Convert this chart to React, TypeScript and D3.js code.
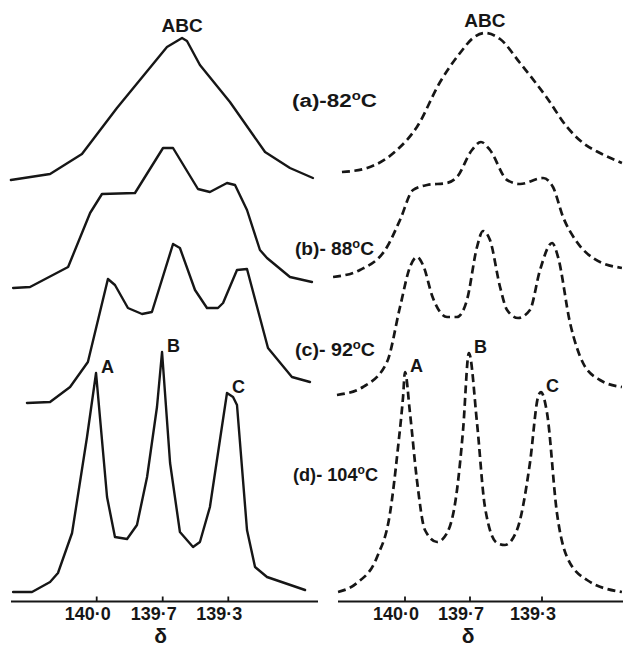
import React from 'react';
import * as d3 from 'd3';

// Chemical shift (δ, ppm) and intensity (arbitrary units) for each spectrum.
type Pt = [number, number];

const SHIFT_TICKS = [140.0, 139.7, 139.3];
const SHIFT_TICK_LABELS = ['140·0', '139·7', '139·3'];
const PEAK_NAMES = ['A', 'B', 'C'];
const TEMPERATURE_LABELS = ['(a)-82', '(b)- 88', '(c)- 92', '(d)- 104'];

// Observed spectra
const OBS_A: Pt[] = [
  [140.39, 0], [140.212, 6], [140.067, 26], [139.908, 72], [139.674, 133],
  [139.582, 142], [139.552, 139], [139.473, 115], [139.29, 78], [139.076, 28],
  [138.924, 12], [138.784, 2],
];
const OBS_B: Pt[] = [
  [140.38, 0], [140.303, 1], [140.13, 21], [140.03, 75], [139.976, 94],
  [139.826, 95], [139.698, 140], [139.637, 140], [139.485, 99], [139.412, 96],
  [139.308, 105], [139.259, 103], [139.186, 78], [139.107, 38], [139.064, 30],
  [138.924, 11], [138.79, 6],
];
const OBS_C: Pt[] = [
  [140.317, 0], [140.212, 1], [140.121, 16], [140.04, 41], [139.949, 124],
  [139.917, 118], [139.858, 95], [139.794, 89], [139.749, 91], [139.637, 159],
  [139.595, 155], [139.503, 113], [139.43, 95], [139.363, 95], [139.332, 100],
  [139.247, 133], [139.186, 134], [139.058, 55], [138.912, 26], [138.802, 21],
];
const OBS_D: Pt[] = [
  [140.38, 0], [140.294, 0], [140.212, 10], [140.176, 19], [140.112, 59],
  [140.044, 155], [140.003, 219], [139.953, 95], [139.917, 55], [139.862, 53],
  [139.817, 67], [139.771, 115], [139.726, 185], [139.703, 240], [139.655, 129],
  [139.595, 60], [139.515, 45], [139.473, 50], [139.412, 85], [139.351, 152],
  [139.308, 199], [139.271, 195], [139.247, 187], [139.186, 62], [139.137, 25],
  [139.064, 15], [138.832, 2],
];

// Calculated spectra
const CALC_A: Pt[] = [
  [140.291, 0], [140.175, 4], [140.037, 22], [139.945, 45], [139.838, 90],
  [139.746, 119], [139.683, 134], [139.617, 139], [139.533, 133], [139.422, 109],
  [139.272, 74], [139.161, 45], [139.072, 29], [138.978, 19], [138.856, 9],
];
const CALC_B: Pt[] = [
  [140.332, 0], [140.208, 7], [140.083, 30], [140.023, 57], [139.963, 87],
  [139.898, 92], [139.806, 94], [139.76, 100], [139.689, 127], [139.639, 135],
  [139.589, 127], [139.494, 97], [139.422, 93], [139.294, 99], [139.239, 90],
  [139.183, 60], [139.106, 35], [139.017, 19], [138.856, 9],
];
const CALC_C: Pt[] = [
  [140.314, 0], [140.194, 8], [140.083, 33], [140.023, 88], [139.977, 128],
  [139.945, 138], [139.917, 130], [139.871, 97], [139.806, 78], [139.76, 78],
  [139.714, 95], [139.661, 148], [139.628, 164], [139.589, 155], [139.533, 108],
  [139.494, 85], [139.433, 77], [139.367, 85], [139.311, 125], [139.244, 152],
  [139.211, 138], [139.144, 72], [139.072, 32], [138.978, 15], [138.856, 8],
];
const CALC_D: Pt[] = [
  [140.309, 0], [140.222, 9], [140.129, 35], [140.069, 79], [140.032, 145],
  [140.009, 195], [140.0, 220], [139.977, 179], [139.945, 112], [139.908, 62],
  [139.852, 50], [139.806, 59], [139.76, 102], [139.732, 162], [139.705, 239],
  [139.661, 169], [139.617, 85], [139.55, 49], [139.506, 47], [139.439, 62],
  [139.367, 129], [139.322, 195], [139.306, 200], [139.272, 179], [139.217, 79],
  [139.161, 35], [139.05, 12], [138.856, 0],
];

const OBSERVED = [OBS_A, OBS_B, OBS_C, OBS_D];
const CALCULATED = [CALC_A, CALC_B, CALC_C, CALC_D];

const W = 623;
const H = 649;
const INK = '#161616';
const FONT = "'Liberation Sans', Arial, sans-serif";

interface PanelSpec {
  spectra: Pt[][];
  tickPx: number[];
  baselines: number[];
  axisX: [number, number];
  axisY: number;
  dashed: boolean;
  smooth: boolean;
}

const LEFT: PanelSpec = {
  spectra: OBSERVED,
  tickPx: [96.7, 162.7, 228.3],
  baselines: [180, 288, 403, 592],
  axisX: [11, 318],
  axisY: 601.5,
  dashed: false,
  smooth: false,
};

const RIGHT: PanelSpec = {
  spectra: CALCULATED,
  tickPx: [405, 470, 542],
  baselines: [172, 277, 395, 592],
  axisX: [338, 623],
  axisY: 601.5,
  dashed: true,
  smooth: true,
};

function Panel({ spec }: { spec: PanelSpec }) {
  // piecewise-linear δ axis (the printed scale is not uniform)
  const x = d3.scaleLinear().domain(SHIFT_TICKS).range(spec.tickPx);
  const amp = 240;
  const yFor = (i: number) =>
    d3.scaleLinear().domain([0, amp]).range([spec.baselines[i], spec.baselines[i] - amp]);

  const paths = spec.spectra.map((pts, i) => {
    const y = yFor(i);
    const line = d3
      .line<Pt>()
      .x((d) => x(d[0]))
      .y((d) => y(d[1]))
      .curve(spec.smooth ? d3.curveMonotoneX : d3.curveLinear);
    return line(pts) || '';
  });

  // "ABC" over the top spectrum's maximum
  const top = spec.spectra[0];
  const topMax = top.reduce((a, b) => (b[1] > a[1] ? b : a));
  const yTop = yFor(0);

  // A, B, C beside the peaks of the lowest spectrum
  const last = spec.spectra.length - 1;
  const low = spec.spectra[last];
  const yLow = yFor(last);
  const peakLabels = SHIFT_TICKS.map((s, k) => {
    const near = low.filter((d) => Math.abs(d[0] - s) < 0.06);
    const pk = near.reduce((a, b) => (b[1] > a[1] ? b : a));
    return { name: PEAK_NAMES[k], x: x(pk[0]) + 5, y: yLow(pk[1]) };
  });

  return (
    <g>
      {paths.map((d, i) => (
        <path
          key={i}
          d={d}
          fill="none"
          stroke={INK}
          strokeWidth={spec.dashed ? 2.7 : 2.4}
          strokeDasharray={spec.dashed ? '8 4.5' : undefined}
          strokeLinejoin="round"
          strokeLinecap={spec.dashed ? 'butt' : 'round'}
        />
      ))}
      <text
        x={x(topMax[0])}
        y={yTop(topMax[1]) - 6}
        textAnchor="middle"
        fontFamily={FONT}
        fontWeight="bold"
        fontSize={19}
        fill={INK}
      >
        ABC
      </text>
      {peakLabels.map((p) => (
        <text
          key={p.name}
          x={p.x}
          y={p.y}
          fontFamily={FONT}
          fontWeight="bold"
          fontSize={18}
          fill={INK}
        >
          {p.name}
        </text>
      ))}
      <line
        x1={spec.axisX[0]}
        x2={spec.axisX[1]}
        y1={spec.axisY}
        y2={spec.axisY}
        stroke={INK}
        strokeWidth={2}
      />
      {SHIFT_TICKS.map((t, k) => (
        <g key={t}>
          <line
            x1={x(t)}
            x2={x(t)}
            y1={spec.axisY}
            y2={spec.axisY - 5}
            stroke={INK}
            strokeWidth={1.8}
          />
          <text
            x={x(t) - 9}
            y={spec.axisY + 18}
            textAnchor="middle"
            fontFamily={FONT}
            fontWeight="bold"
            fontSize={19}
            fill={INK}
            textLength={46}
            lengthAdjust="spacingAndGlyphs"
          >
            {SHIFT_TICK_LABELS[k]}
          </text>
        </g>
      ))}
      <text
        x={x(139.7) - 2}
        y={spec.axisY + 41}
        textAnchor="middle"
        fontFamily={FONT}
        fontWeight="bold"
        fontSize={21}
        fill={INK}
      >
        δ
      </text>
    </g>
  );
}

const LABEL_X = [292, 295, 295, 293];
const LABEL_Y = [107, 255, 356, 481];
const LABEL_W = [85, 79, 80, 85];

export default function App() {
  return (
    <svg
      width={W}
      height={H}
      viewBox={`0 0 ${W} ${H}`}
      style={{ position: 'absolute', left: 0, top: 0, background: '#fff', display: 'block' }}
    >
      <rect width={W} height={H} fill="#fff" />
      <Panel spec={LEFT} />
      <Panel spec={RIGHT} />
      {TEMPERATURE_LABELS.map((t, i) => (
        <text
          key={t}
          x={LABEL_X[i]}
          y={LABEL_Y[i]}
          fontFamily={FONT}
          fontWeight="bold"
          fontSize={18}
          fill={INK}
          textLength={LABEL_W[i]}
          lengthAdjust="spacingAndGlyphs"
        >
          {t}
          <tspan dy={-7} fontSize={12}>o</tspan>
          <tspan dy={7}>C</tspan>
        </text>
      ))}
    </svg>
  );
}
